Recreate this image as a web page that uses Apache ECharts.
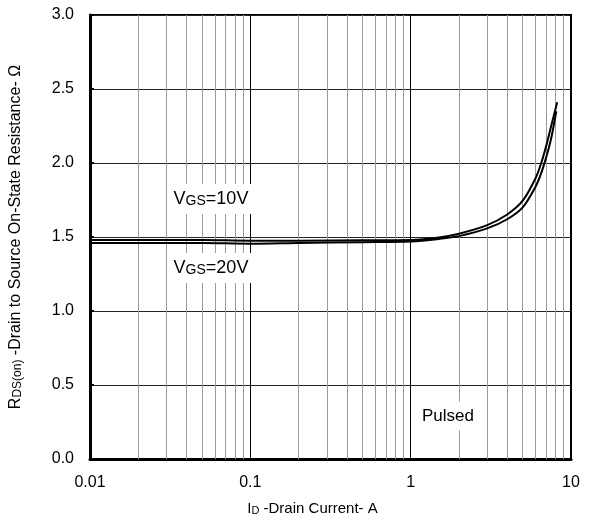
<!DOCTYPE html>
<html>
<head>
<meta charset="utf-8">
<script src="https://cdn.jsdelivr.net/npm/echarts@6/dist/echarts.min.js"></script>
<style>html,body{margin:0;padding:0;background:#fff}#c{width:614px;height:523px}</style>
</head>
<body>
<div id="c"></div>
<script>
// Drain current (A) and on-resistance (ohm)
const current10 = [0.01, 0.02, 0.05, 0.1, 0.2, 0.5, 1, 1.5, 2, 3, 4, 5, 6, 6.5, 7, 7.5, 8.2];
const rds10 =     [1.48, 1.48, 1.48, 1.475, 1.475, 1.478, 1.48, 1.497, 1.522, 1.58, 1.652, 1.745, 1.895, 1.995, 2.115, 2.245, 2.41];
const current20 = [0.01, 0.02, 0.05, 0.1, 0.2, 0.5, 1, 1.5, 2, 3, 4, 5, 6, 6.5, 7, 7.5, 8.1];
const rds20 =     [1.46, 1.46, 1.46, 1.455, 1.46, 1.465, 1.47, 1.487, 1.506, 1.558, 1.62, 1.7, 1.838, 1.928, 2.038, 2.16, 2.35];
const minorX = [0.02,0.03,0.04,0.05,0.06,0.07,0.08,0.09,0.2,0.3,0.4,0.5,0.6,0.7,0.8,0.9,2,3,4,5,6,7,8,9];
const xTicks = ['0.01', '0.1', '1', '10'];
const seriesNames = ['VGS=10V', 'VGS=20V'];

const font = 'Liberation Sans, Arial, sans-serif';
const chart = echarts.init(document.getElementById('c'));
const zip = (a, b) => a.map((v, i) => [v, b[i]]);
const subRich = (big, small) => ({
  a: { fontSize: big, fontFamily: font, color: '#000', fill: '#000', verticalAlign: 'bottom' },
  b: { fontSize: small, fontFamily: font, color: '#000', fill: '#000', verticalAlign: 'bottom' }
});

chart.setOption({
  animation: false,
  backgroundColor: '#fff',
  grid: { left: 89, right: 43, top: 15, bottom: 64, show: true, borderColor: '#000', borderWidth: 2, backgroundColor: 'transparent' },
  xAxis: {
    type: 'log', logBase: 10, min: 0.01, max: 10,
    axisLine: { show: true, onZero: false, lineStyle: { color: '#000', width: 3 } },
    axisTick: { show: false },
    axisLabel: { color: '#000', fontSize: 16, fontFamily: font, margin: 16,
      formatter: v => { const s = xTicks.find(t => Math.abs(parseFloat(t) - v) < 1e-9 * Math.max(1, v)); return s || ''; } },
    splitLine: { show: true, lineStyle: { color: '#000', width: 1 } },
    name: '{a|I}{b|D}{a| -Drain Current- A}',
    nameLocation: 'middle', nameGap: 42,
    nameTextStyle: { padding: [0, 36, 0, 0], rich: subRich(15, 11) }
  },
  yAxis: {
    type: 'value', min: 0, max: 3, interval: 0.5,
    axisLine: { show: true, onZero: false, lineStyle: { color: '#000', width: 3 } },
    axisTick: { show: true, inside: true, length: 4, lineStyle: { color: '#000', width: 2 } },
    axisLabel: { color: '#000', fontSize: 16, fontFamily: font, margin: 16, formatter: v => v.toFixed(1) },
    splitLine: { show: true, lineStyle: { color: '#222', width: 1 } },
    name: '{a|R}{b|DS(on)}{a| -Drain to Source On-State Resistance- Ω}',
    nameLocation: 'middle', nameGap: 66, nameRotate: 90,
    nameTextStyle: { rich: subRich(16, 12) }
  },
  series: [
    {
      type: 'line', data: [], z: 1, silent: true,
      markLine: { silent: true, symbol: ['none', 'none'], label: { show: false },
        lineStyle: { color: '#9a9a9a', width: 1, type: 'solid' },
        emphasis: { disabled: true },
        data: minorX.map(v => ({ xAxis: v })) }
    },
    { name: seriesNames[0], type: 'line', data: zip(current10, rds10), smooth: 0.3, showSymbol: false, z: 5,
      lineStyle: { color: '#000', width: 2 } },
    { name: seriesNames[1], type: 'line', data: zip(current20, rds20), smooth: 0.3, showSymbol: false, z: 5,
      lineStyle: { color: '#000', width: 2 } }
  ],
  graphic: [
    { type: 'text', x: 211, y: 199, z: 100,
      style: { text: '{a|V}{b|GS}{a|=10V}', align: 'center', verticalAlign: 'middle', backgroundColor: '#fff', padding: [6, 4, 6, 4],
        rich: subRich(18, 14) } },
    { type: 'text', x: 211, y: 268, z: 100,
      style: { text: '{a|V}{b|GS}{a|=20V}', align: 'center', verticalAlign: 'middle', backgroundColor: '#fff', padding: [6, 4, 6, 4],
        rich: subRich(18, 14) } },
    { type: 'text', x: 448, y: 416, z: 100,
      style: { text: 'Pulsed', align: 'center', verticalAlign: 'middle', backgroundColor: '#fff', padding: [6, 4, 6, 4],
        fontSize: 17, fontFamily: font, fill: '#000' } }
  ]
});
</script>
</body>
</html>
